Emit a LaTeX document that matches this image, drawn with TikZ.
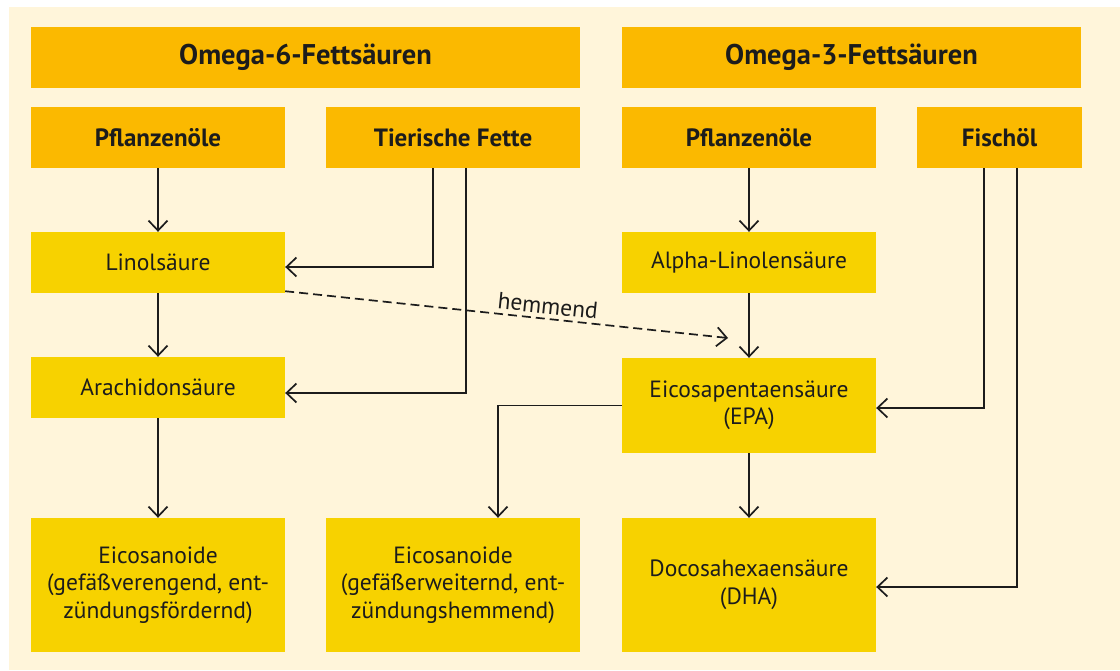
\documentclass[tikz,border=0pt]{standalone}
\usepackage{fontspec}
\setmainfont{PT Sans}
\usetikzlibrary{arrows.meta,calc}
\definecolor{bgcream}{HTML}{FFF5DA}
\definecolor{hdr}{HTML}{FBB900}
\definecolor{lite}{HTML}{F7D200}
\definecolor{ink}{HTML}{1C1C1C}
\begin{document}
\begin{tikzpicture}[x=1pt,y=1pt,
  box/.style={fill=lite,draw=none,minimum width=254pt,minimum height=61pt,inner sep=0pt,align=center,text=ink,font=\fontsize{23.5}{27.5}\selectfont},
  hbox/.style={box,fill=hdr,font=\bfseries\fontsize{25}{28}\selectfont},
  ttl/.style={hbox,minimum height=61pt,font=\bfseries\fontsize{28.5}{32}\selectfont},
  arr/.style={draw=ink,line width=1.7pt,-{Straight Barb[length=10pt,width=19pt,line width=1.7pt]}},
  dsh/.style={arr,dash pattern=on 9pt off 5pt}]
\useasboundingbox (0,0) rectangle (1120,-670);
\fill[white] (0,0) rectangle (1120,-670);
\fill[bgcream] (9,-7) rectangle (1120,-670);
% headers
\node[ttl,minimum width=549pt] (o6) at (305.5,-57.5) {Omega-6-Fettsäuren};
\node[ttl,minimum width=459pt] (o3) at (851.5,-57.5) {Omega-3-Fettsäuren};
% sources
\node[hbox] (p6) at (158,-137.5) {Pflanzenöle};
\node[hbox] (tf) at (453,-137.5) {Tierische Fette};
\node[hbox] (p3) at (749,-137.5) {Pflanzenöle};
\node[hbox,minimum width=165pt] (fo) at (999.5,-137.5) {Fischöl};
% intermediates
\node[box] (lin) at (158,-262.5) {Linolsäure};
\node[box] (ala) at (749,-262.5) {Alpha-Linolensäure};
\node[box] (ara) at (158,-387.5) {Arachidonsäure};
\node[box,minimum height=95pt] (epa) at (749,-405.5) {Eicosapentaensäure\\(EPA)};
% results
\node[box,minimum height=134pt] (eic1) at (158,-585) {Eicosanoide\\(gefäßverengend, ent-\\zündungsfördernd)};
\node[box,minimum height=134pt] (eic2) at (453,-585) {Eicosanoide\\(gefäßerweiternd, ent-\\zündungshemmend)};
\node[box,minimum height=134pt] (dha) at (749,-585) {Docosahexaensäure\\(DHA)};
% connectors
\draw[arr] (p6) -- (lin);
\draw[arr] (lin) -- (ara);
\draw[arr] (ara) -- (eic1);
\draw[arr] ([xshift=-20pt]tf.south) |- ([yshift=-4.5pt]lin.east);
\draw[arr] ([xshift=13pt]tf.south) |- ([yshift=-5.5pt]ara.east);
\draw[arr] (p3) -- (ala);
\draw[arr] (ala) -- (epa);
\draw[arr] (epa) -- (dha);
\draw[arr] ([xshift=-15.5pt]fo.south) |- ([yshift=-2.5pt]epa.east);
\draw[arr] ([xshift=17.5pt]fo.south) |- ([yshift=-2pt]dha.east);
\draw[arr] (epa.west) -| ([xshift=45pt]eic2.north);
\coordinate (hm) at (728,-338);
\draw[dsh] ([yshift=2pt]lin.south east) -- node[pos=0.59,above=4pt,sloped,text=ink,font=\fontsize{23.5}{26}\selectfont,inner sep=0pt] {hemmend} (hm);
\end{tikzpicture}
\end{document}
